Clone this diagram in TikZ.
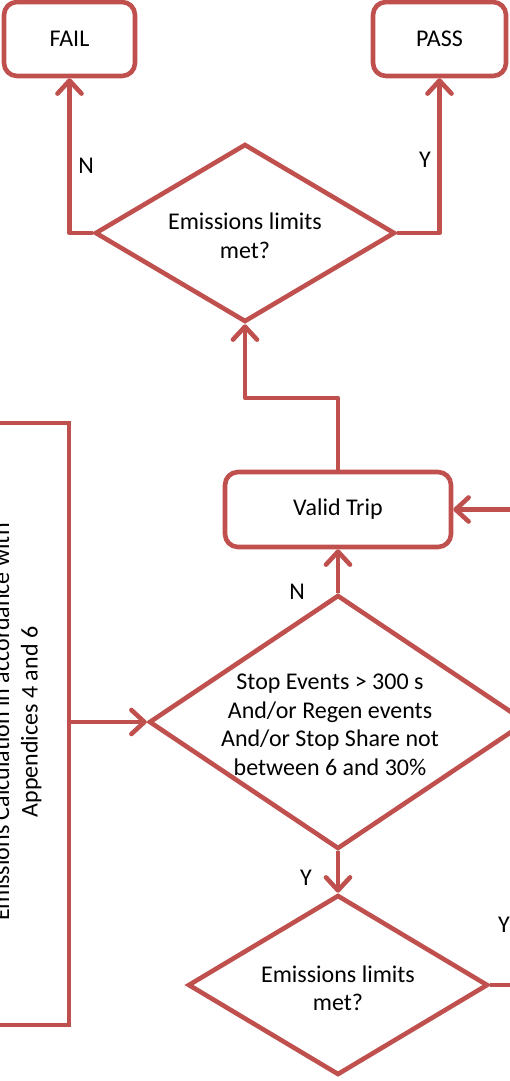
\documentclass[tikz,border=0pt]{standalone}
\usepackage{fontspec}
\setmainfont{Carlito}
\usetikzlibrary{shapes.geometric,arrows.meta}
\definecolor{accred}{RGB}{192,80,77}
\tikzset{
  base/.style={draw=accred, line width=4.6pt, font=\fontsize{24}{28.5}\selectfont, text=black, inner sep=0pt, outer sep=2.3pt},
  termbox/.style={base, rectangle, rounded corners=13pt, align=center},
  decision/.style={base, diamond, align=center},
  plainbox/.style={base, rectangle},
  lbl/.style={font=\fontsize{24}{28.5}\selectfont, inner sep=0pt, text=black},
  conn/.style={draw=accred, line width=4.6pt, line join=round, -{Straight Barb[length=13pt,width=24pt,round]}},
  plainconn/.style={draw=accred, line width=4.6pt, line join=round}
}
\begin{document}
\begin{tikzpicture}[x=1pt,y=-1pt]
\useasboundingbox (0,0) rectangle (510,1081);
\clip (0,0) rectangle (510,1081);

% nodes
\node[termbox, minimum width=131pt, minimum height=74pt] (fail) at (69.5,39) {FAIL};
\node[termbox, minimum width=133pt, minimum height=74pt] (pass) at (439.5,39) {PASS};
\node[decision, minimum width=300pt, minimum height=178pt] (top) at (245,233) {};
\node[lbl, align=center] (toptxt) at (245,236) {Emissions limits\\met?};
\node[termbox, minimum width=226pt, minimum height=75pt] (valid) at (338,509.5) {Valid Trip};
\node[decision, minimum width=378pt, minimum height=254pt] (mid) at (338,722) {};
\node[lbl, align=center] (midtxt) at (330,725) {Stop Events > 300 s\\And/or Regen events\\And/or Stop Share not\\between 6 and 30\%};
\node[decision, minimum width=300pt, minimum height=180pt] (bot) at (338,985) {};
\node[lbl, align=center] (bottxt) at (338,988) {Emissions limits\\met?};
\node[plainbox, minimum width=160pt, minimum height=602pt] (lbox) at (-11,724) {};
\node[lbl, align=center, rotate=90] (ltxt) at (17,722) {Emissions Calculation in accordance with\\Appendices 4 and 6};

% labels
\node[lbl] (n1) at (86,166) {N};
\node[lbl] (y1) at (425,160) {Y};
\node[lbl] (n2) at (297,592) {N};
\node[lbl] (y2) at (306,878) {Y};
\node[lbl] (y3) at (504,925) {Y};

% free ends
\coordinate (bend) at (245,398);
\coordinate (rin) at (520,509.5);
\coordinate (rout) at (520,985);

% connectors
\draw[conn] (top.west) -| (fail.south);
\draw[conn] (top.east) -| (pass.south);
\draw[conn] (valid.north) |- (bend) -- (top.south);
\draw[conn] (mid.north) -- (valid.south);
\draw[conn] (mid.south) -- (bot.north);
\draw[conn] (lbox.east |- mid.west) -- (mid.west);
\draw[conn] (rin) -- (valid.east);
\draw[plainconn] (bot.east) -- (rout);
\end{tikzpicture}
\end{document}
